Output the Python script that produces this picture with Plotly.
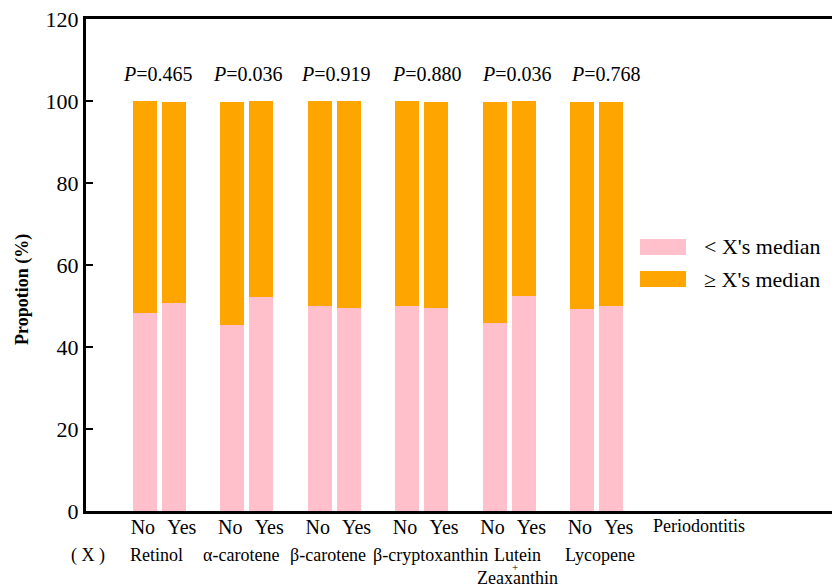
import plotly.graph_objects as go

# ---- data ----
nutrients = ["Retinol", "α-carotene", "β-carotene", "β-cryptoxanthin", "Lutein", "Lycopene"]
p_values = ["0.465", "0.036", "0.919", "0.880", "0.036", "0.768"]
groups = ["No", "Yes"]
below_median_no = [48.3, 45.4, 50.0, 50.0, 45.9, 49.3]
below_median_yes = [50.7, 52.2, 49.5, 49.5, 52.4, 50.0]
above_median_no = [51.7, 54.4, 50.0, 50.0, 53.9, 50.5]
above_median_yes = [49.1, 47.8, 50.5, 50.3, 47.6, 49.8]
y_ticks = [0, 20, 40, 60, 80, 100, 120]

FONT = "Liberation Serif, Times New Roman, serif"
PINK = "#FFC0CB"
ORANGE = "#FFA500"

off = 0.166
bw = 0.275
xs, below, above, tickpos, ticktext = [], [], [], [], []
for i in range(len(nutrients)):
    xs += [i - off, i + off]
    tickpos += [i - 0.19, i + 0.255]
    below += [below_median_no[i], below_median_yes[i]]
    above += [above_median_no[i], above_median_yes[i]]
    ticktext += groups

fig = go.Figure()
fig.add_trace(go.Bar(x=xs, y=below, width=bw, marker=dict(color=PINK, line=dict(width=0)),
                     name="< X's median", showlegend=False))
fig.add_trace(go.Bar(x=xs, y=above, width=bw, marker=dict(color=ORANGE, line=dict(width=0)),
                     name="≥ X's median", showlegend=False))


def txt(x, y, text, size, xref="paper", yref="paper", xanchor="center", **kw):
    return dict(x=x, y=y, xref=xref, yref=yref, text=text, showarrow=False, xanchor=xanchor,
                yanchor="middle", borderpad=0, font=dict(family=FONT, size=size, color="black"), **kw)


ann = []
p_shift = [-2, 1, 2, 5, 8, 9]
for i, p in enumerate(p_values):
    ann.append(txt(i, 106.6, f"<i>P</i>={p}", 20, xref="x", yref="y", xshift=p_shift[i]))
name_shift = [-3, -5.5, -6.5, 8.5, 8.5, 3]
row_y = (511 - 555) / 492
for i, n in enumerate(nutrients):
    ann.append(txt(i, row_y, n, 18, xref="x", xshift=name_shift[i]))
ann.append(txt(4, (511 - 567) / 492, "+", 11, xref="x", xshift=6))
ann.append(txt(4, (511 - 578) / 492, "Zeaxanthin", 18, xref="x", xshift=8.5))
ann.append(txt((88 - 86) / 746, row_y, "( X )", 18))
ann.append(txt(6.17, (511 - 526) / 492, "Periodontitis", 18, xref="x"))
ann.append(txt((22 - 86) / 746, (511 - 290) / 492, "<b>Propotion (%)</b>", 18, textangle=-90))
ann.append(txt((703 - 86) / 746, (511 - 247) / 492, "< X's median", 22, xanchor="left"))
ann.append(txt((703 - 86) / 746, (511 - 279) / 492, "≥ X's median", 22, xanchor="left"))

shapes = [
    dict(type="rect", xref="paper", yref="paper", x0=(640 - 86) / 746, x1=(686 - 86) / 746,
         y0=(511 - 255) / 492, y1=(511 - 239) / 492, fillcolor=PINK, line=dict(width=0)),
    dict(type="rect", xref="paper", yref="paper", x0=(640 - 86) / 746, x1=(686 - 86) / 746,
         y0=(511 - 287) / 492, y1=(511 - 271) / 492, fillcolor=ORANGE, line=dict(width=0)),
]

x0 = (86 - 159.5) / 87.4
x1 = (832 - 159.5) / 87.4
fig.update_layout(
    width=832, height=587,
    margin=dict(l=86, r=0, t=19, b=76),
    plot_bgcolor="white", paper_bgcolor="white",
    barmode="stack", bargap=0,
    font=dict(family=FONT, color="black"),
    annotations=ann, shapes=shapes, showlegend=False,
    xaxis=dict(range=[x0, x1], tickvals=tickpos, ticktext=ticktext, ticks="", showgrid=False, zeroline=False,
               showline=True, linecolor="black", linewidth=3, mirror=True, ticklabelstandoff=-4,
               tickfont=dict(family=FONT, size=20, color="black")),
    yaxis=dict(range=[0, 120], tickvals=y_ticks, ticks="inside", ticklen=7, tickwidth=2, tickcolor="black",
               showgrid=False, zeroline=False, showline=True, linecolor="black", linewidth=3,
               tickfont=dict(family=FONT, size=22, color="black")),
)
fig.write_html("out.html", config={"displayModeBar": False},
               post_script="document.body.style.margin='0';")
